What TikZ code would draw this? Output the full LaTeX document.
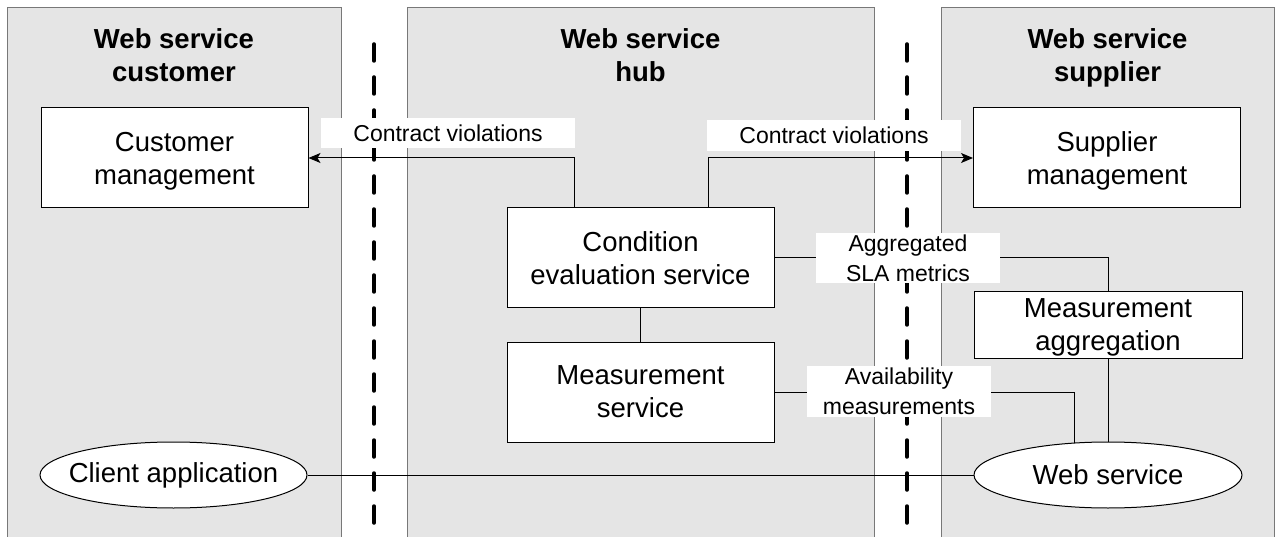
\documentclass[tikz,border=0pt]{standalone}
\usepackage{fontspec}
\setmainfont{Liberation Sans}
\usetikzlibrary{shapes.geometric,arrows.meta}
\definecolor{panelgray}{RGB}{229,229,229}
\definecolor{paneledge}{RGB}{120,120,120}
\begin{document}
\begin{tikzpicture}[x=1pt,y=-1pt,
  panel/.style={fill=panelgray,draw=paneledge,line width=0.9pt},
  title/.style={inner sep=0pt,align=center,font=\fontsize{27.5}{33.5}\selectfont\bfseries},
  boxnode/.style={draw=black,fill=white,line width=1pt,minimum width=267pt,minimum height=100pt,inner sep=0pt,align=center,font=\fontsize{27.5}{33}\selectfont,text depth=0pt},
  ellnode/.style={ellipse,draw=black,fill=white,line width=1pt,minimum width=267pt,minimum height=66pt,inner sep=0pt,font=\fontsize{27.5}{33}\selectfont},
  lbl/.style={fill=white,inner sep=0pt,align=center,font=\fontsize{23}{30}\selectfont,text depth=0pt},
  conn/.style={draw=black,line width=1pt},
  arr/.style={-{Stealth[length=12pt,width=10pt,inset=3pt]}},
  divider/.style={draw=black,line width=3.5pt,dash pattern=on 17pt off 16pt,line cap=round}
]
\useasboundingbox (0,0) rectangle (1277,537);
\clip (0,0) rectangle (1277,537);
\fill[white] (0,0) rectangle (1277,537);
% panels
\draw[panel] (7,7) rectangle (341,560);
\draw[panel] (407,7) rectangle (874,560);
\draw[panel] (941,7) rectangle (1274,560);
% titles
\node[title,anchor=base] (tcust) at (174,82) {Web service\\customer};
\node[title,anchor=base] (thub) at (640.5,82) {Web service\\hub};
\node[title,anchor=base] (tsupp) at (1107.5,82) {Web service\\supplier};
% boxes
\node[boxnode] (cm) at (174.5,158) {Customer\\management};
\node[boxnode] (sm) at (1107,158) {Supplier\\management};
\node[boxnode] (ces) at (640.5,258) {Condition\\evaluation service};
\node[boxnode] (ms) at (640.5,392) {Measurement\\service};
\node[boxnode,minimum width=268pt,minimum height=66pt] (ma) at (1108,325) {Measurement\\aggregation};
\node[ellnode] (ca) at (173.5,475) {\makebox[0pt][c]{Client application}};
\node[ellnode,minimum width=268pt] (ws) at (1108,475) {\makebox[0pt][c]{Web service}};
% connectors
\draw[conn,arr] ([xshift=-66.5pt]ces.north) |- (cm.east);
\draw[conn,arr] ([xshift=67.5pt]ces.north) |- (sm.west);
\draw[conn] (ces.east) -| (ma.north);
\draw[conn] (ces.south) -- (ms.north);
\draw[conn] (ms.east) -| (ws.136);
\draw[conn] (ma.south) -- (ws.north);
\draw[conn] (ca.east) -- (ws.west);
% dividers
\coordinate (d1top) at (374,44);
\coordinate (d1bot) at (374,560);
\coordinate (d2top) at (907,44);
\coordinate (d2bot) at (907,560);
\draw[divider] (d1top) -- (d1bot);
\draw[divider] (d2top) -- (d2bot);
% labels
\node[lbl,minimum width=254pt,minimum height=30pt] (l1) at (448,133) {Contract violations};
\node[lbl,minimum width=254pt,minimum height=31pt] (l2) at (834,135.5) {Contract violations};
\node[lbl,minimum width=184pt,minimum height=50pt] (l3) at (908,258) {Aggregated\\SLA metrics};
\node[lbl,minimum width=184pt,minimum height=51pt] (l4) at (899,391.5) {Availability\\measurements};
\end{tikzpicture}
\end{document}
